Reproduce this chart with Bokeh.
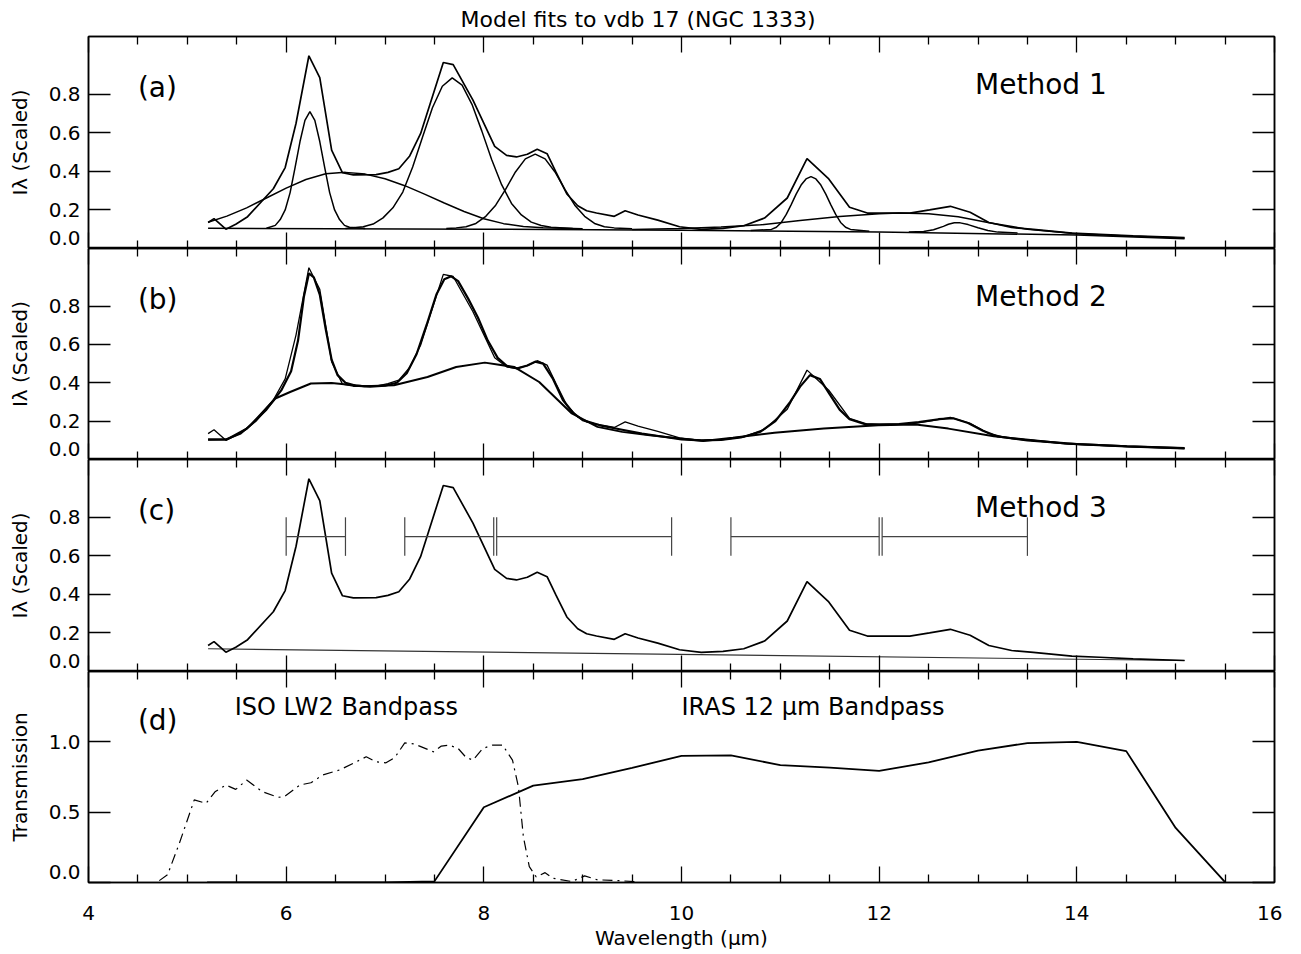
from bokeh.plotting import figure
from bokeh.models import FixedTicker, LinearAxis, Range1d, Label, CustomJSTickFormatter
from bokeh.layouts import column
from bokeh.embed import file_html
from bokeh.resources import INLINE

FONT = "DejaVu Sans"

# ---------------- data ----------------
# observed spectrum (same in panels a, b, c)
spec_wave = [5.21, 5.27, 5.39, 5.49, 5.61, 5.87, 5.99, 6.10, 6.23, 6.34, 6.46, 6.57, 6.68,
             6.91, 7.03, 7.14, 7.25, 7.36, 7.59, 7.69, 7.89, 8.11, 8.23, 8.33, 8.44, 8.54,
             8.64, 8.73, 8.84, 8.95, 9.04, 9.14, 9.32, 9.43, 9.56, 9.76, 9.98, 10.20, 10.42,
             10.63, 10.84, 11.07, 11.27, 11.49, 11.70, 11.88, 12.31, 12.51, 12.72, 12.92,
             13.11, 13.34, 13.56, 13.95, 14.23, 14.57, 15.09]
spec_flux = [0.135, 0.155, 0.100, 0.126, 0.165, 0.310, 0.420, 0.650, 1.000, 0.887, 0.510, 0.393, 0.382,
             0.383, 0.395, 0.414, 0.480, 0.596, 0.965, 0.954, 0.770, 0.530, 0.483, 0.475, 0.489, 0.515,
             0.492, 0.396, 0.283, 0.222, 0.196, 0.184, 0.167, 0.196, 0.174, 0.147, 0.113, 0.099, 0.104,
             0.118, 0.158, 0.262, 0.466, 0.361, 0.214, 0.184, 0.184, 0.200, 0.219, 0.188,
             0.135, 0.109, 0.099, 0.080, 0.074, 0.066, 0.057]

# panel (a): Method 1 components
a_cont_wave = [5.21, 8.0, 10.0, 12.0, 14.0, 15.09]
a_cont_flux = [0.105, 0.100, 0.095, 0.085, 0.070, 0.050]

a_c62_wave = [5.80, 5.89, 5.94, 5.99, 6.04, 6.09, 6.14, 6.19, 6.24, 6.29, 6.34, 6.39, 6.44,
              6.49, 6.54, 6.59, 6.64, 6.80]
a_c62_flux = [0.105, 0.12, 0.15, 0.20, 0.29, 0.42, 0.555, 0.665, 0.71, 0.665, 0.555, 0.42, 0.29,
              0.20, 0.15, 0.12, 0.11, 0.104]

a_c66_wave = [5.21, 5.4, 5.6, 5.8, 6.0, 6.2, 6.4, 6.6, 6.8, 7.0, 7.2, 7.4, 7.6, 7.8, 8.0, 8.2,
              8.4, 8.6, 9.0]
a_c66_flux = [0.136, 0.168, 0.211, 0.262, 0.313, 0.358, 0.388, 0.395, 0.386, 0.362, 0.326, 0.282,
              0.236, 0.192, 0.154, 0.129, 0.114, 0.108, 0.103]

a_c77_wave = [6.60, 6.78, 6.88, 6.98, 7.08, 7.18, 7.28, 7.38, 7.48, 7.58, 7.68, 7.78, 7.88, 7.98,
              8.08, 8.18, 8.28, 8.38, 8.48, 8.58, 8.68, 8.90]
a_c77_flux = [0.104, 0.113, 0.127, 0.159, 0.211, 0.293, 0.423, 0.578, 0.730, 0.842, 0.885, 0.848,
              0.748, 0.609, 0.460, 0.331, 0.234, 0.174, 0.137, 0.119, 0.110, 0.104]

a_c86_wave = [7.62, 7.72, 7.82, 7.92, 8.02, 8.12, 8.22, 8.32, 8.42, 8.52, 8.62, 8.72, 8.82, 8.92,
              9.02, 9.12, 9.22, 9.32, 9.50]
a_c86_flux = [0.104, 0.107, 0.113, 0.130, 0.167, 0.225, 0.307, 0.397, 0.465, 0.490, 0.465, 0.397,
              0.307, 0.225, 0.167, 0.130, 0.113, 0.107, 0.102]

a_c113_wave = [10.70, 10.91, 10.96, 11.01, 11.06, 11.11, 11.16, 11.21, 11.26, 11.31, 11.36, 11.41,
               11.46, 11.51, 11.56, 11.61, 11.66, 11.71, 11.90]
a_c113_flux = [0.093, 0.099, 0.110, 0.135, 0.177, 0.228, 0.282, 0.329, 0.361, 0.373, 0.361, 0.329,
               0.282, 0.228, 0.177, 0.135, 0.110, 0.099, 0.089]

a_c127_wave = [12.30, 12.45, 12.55, 12.65, 12.70, 12.76, 12.82, 12.90, 13.00, 13.10, 13.20, 13.40]
a_c127_flux = [0.085, 0.088, 0.097, 0.115, 0.126, 0.134, 0.133, 0.124, 0.108, 0.093, 0.085, 0.080]

a_plat_wave = [9.5, 10.0, 10.4, 10.8, 11.2, 11.6, 12.0, 12.2, 12.5, 12.8, 13.1, 13.5, 14.0, 14.5, 15.09]
a_plat_flux = [0.098, 0.104, 0.112, 0.123, 0.145, 0.166, 0.180, 0.184, 0.180, 0.165, 0.135, 0.100,
               0.077, 0.065, 0.055]

# panel (b): Method 2 total model and broad underlying curve
b_model_wave = [5.21, 5.40, 5.60, 5.80, 5.95, 6.05, 6.12, 6.18, 6.23, 6.28, 6.34, 6.40, 6.46, 6.52,
                6.60, 6.70, 6.85, 7.00, 7.12, 7.22, 7.32, 7.42, 7.52, 7.60, 7.67, 7.74, 7.84, 7.94,
                8.04, 8.14, 8.24, 8.34, 8.44, 8.52, 8.60, 8.70, 8.80, 8.90, 9.00, 9.20, 9.40, 9.60,
                9.80, 10.00, 10.20, 10.40, 10.60, 10.80, 10.95, 11.10, 11.20, 11.30, 11.40, 11.50,
                11.60, 11.70, 11.85, 12.00, 12.20, 12.40, 12.60, 12.75, 12.90, 13.05, 13.20, 13.50,
                14.00, 14.50, 15.09]
b_model_flux = [0.104, 0.105, 0.160, 0.260, 0.360, 0.460, 0.620, 0.850, 0.970, 0.950, 0.860, 0.680,
                0.520, 0.440, 0.400, 0.385, 0.380, 0.385, 0.400, 0.450, 0.550, 0.700, 0.860, 0.940,
                0.955, 0.930, 0.840, 0.740, 0.620, 0.530, 0.485, 0.475, 0.490, 0.510, 0.500, 0.420,
                0.310, 0.245, 0.205, 0.175, 0.155, 0.135, 0.120, 0.105, 0.100, 0.102, 0.115, 0.145,
                0.200, 0.300, 0.380, 0.440, 0.420, 0.340, 0.260, 0.210, 0.185, 0.182, 0.185, 0.195,
                0.210, 0.215, 0.190, 0.150, 0.120, 0.100, 0.080, 0.068, 0.058]

b_broad_wave = [5.21, 5.39, 5.54, 5.70, 5.89, 6.04, 6.25, 6.46, 6.79, 7.09, 7.43, 7.72, 8.01, 8.31,
                8.56, 8.89, 9.15, 9.40, 9.68, 10.22, 10.52, 10.94, 11.44, 11.99, 12.37, 12.70,
                13.16, 13.88, 14.51, 15.09]
b_broad_flux = [0.104, 0.104, 0.135, 0.205, 0.318, 0.352, 0.396, 0.399, 0.382, 0.387, 0.430, 0.482,
                0.505, 0.482, 0.404, 0.240, 0.170, 0.144, 0.127, 0.097, 0.113, 0.139, 0.161, 0.179,
                0.182, 0.161, 0.121, 0.083, 0.069, 0.060]

# panel (c): Method 3 continuum and integration intervals
c_cont_wave = [5.21, 15.09]
c_cont_flux = [0.118, 0.057]
band_lo = [6.00, 7.20, 8.13, 10.50, 12.03]
band_hi = [6.60, 8.10, 9.90, 12.00, 13.50]
band_level = 0.70
band_cap_lo = 0.60
band_cap_hi = 0.80

# panel (d): filter transmission curves
lw2_wave = [4.50, 4.69, 4.80, 4.92, 5.07, 5.19, 5.28, 5.39, 5.49, 5.60, 5.76, 5.92, 5.98, 6.14,
            6.25, 6.37, 6.54, 6.68, 6.81, 6.91, 7.01, 7.10, 7.20, 7.30, 7.49, 7.57, 7.65, 7.74,
            7.82, 7.89, 7.99, 8.09, 8.19, 8.29, 8.35, 8.40, 8.46, 8.53, 8.62, 8.70, 8.89, 9.02,
            9.15, 9.35, 9.55]
lw2_trans = [0.0, 0.0, 0.055, 0.28, 0.587, 0.563, 0.645, 0.693, 0.662, 0.728, 0.645, 0.606, 0.61,
             0.693, 0.709, 0.764, 0.80, 0.847, 0.894, 0.858, 0.851, 0.889, 0.993, 0.984, 0.929,
             0.97, 0.977, 0.953, 0.889, 0.87, 0.953, 0.977, 0.977, 0.87, 0.68, 0.326, 0.113, 0.04,
             0.07, 0.03, 0.007, 0.047, 0.019, 0.014, 0.005]

iras_wave = [5.2, 7.0, 7.5, 8.0, 8.5, 9.0, 9.5, 10.0, 10.5, 11.0, 11.5, 12.0, 12.5, 13.0, 13.5,
             14.0, 14.5, 15.0, 15.5]
iras_trans = [0.0, 0.0, 0.008, 0.535, 0.689, 0.735, 0.815, 0.900, 0.904, 0.834, 0.816, 0.793,
              0.854, 0.938, 0.991, 1.000, 0.934, 0.388, 0.002]

# axes / ticks
x_major = [4, 6, 8, 10, 12, 14, 16]
x_minor = [4.5, 5, 5.5, 6.5, 7, 7.5, 8.5, 9, 9.5, 10.5, 11, 11.5, 12.5, 13, 13.5, 14.5, 15, 15.5]
y_ticks_spec = [0.0, 0.2, 0.4, 0.6, 0.8]
y_ticks_trans = [0.0, 0.5, 1.0]

# ---------------- layout helpers ----------------
FRAME_W = 1186
ZERO_LABEL_LIFT_PX = 11   # the "0.0" label is drawn just above the panel's bottom edge


def style_axis(ax, tick_major, tick_minor, labels):
    ax.major_tick_in = tick_major
    ax.major_tick_out = 0
    ax.minor_tick_in = tick_minor
    ax.minor_tick_out = 0
    ax.axis_line_color = "black"
    ax.axis_line_width = 1.5
    ax.major_tick_line_color = "black"
    ax.major_tick_line_width = 1.3
    ax.minor_tick_line_color = "black"
    ax.minor_tick_line_width = 1.3
    if labels:
        ax.major_label_text_font = FONT
        ax.major_label_text_font_size = "20px"
        ax.major_label_text_color = "black"
    else:
        ax.major_label_text_font_size = "0px"
        ax.major_label_standoff = 0
        ax.major_label_text_color = None


def panel(ylim, yticks, ylabel, fh, xlabels=False, title=None, bottom=0):
    kw = {}
    if title is not None:
        kw["title"] = title
    p = figure(frame_width=FRAME_W, frame_height=fh,
               x_range=Range1d(4, 16), y_range=Range1d(*ylim),
               output_backend="svg", toolbar_location=None,
               x_axis_location=None, y_axis_location=None,
               min_border_left=88, min_border_right=8, min_border_top=0,
               min_border_bottom=bottom,
               background_fill_color="white", border_fill_color="white",
               outline_line_color="black", outline_line_width=1.5, **kw)
    p.grid.visible = False
    if title is not None:
        p.title.align = "left"
        p.title.offset = 372
        p.title.text_font = FONT
        p.title.text_font_size = "22px"
        p.title.text_font_style = "normal"
        p.title.text_color = "black"
        p.title.standoff = 9
    xt = FixedTicker(ticks=x_major, minor_ticks=x_minor)
    yt = FixedTicker(ticks=yticks, minor_ticks=[])

    xb = LinearAxis(ticker=xt)
    style_axis(xb, 16, 8, xlabels)
    if xlabels:
        xb.major_label_standoff = 23
        xb.axis_label = "Wavelength (μm)"
        xb.axis_label_text_font = FONT
        xb.axis_label_text_font_size = "20px"
        xb.axis_label_text_font_style = "normal"
        xb.axis_label_text_color = "black"
        xb.axis_label_standoff = 3
    p.add_layout(xb, "below")

    xa = LinearAxis(ticker=xt)
    style_axis(xa, 16, 8, False)
    p.add_layout(xa, "above")

    # left: tick marks (next to the frame)
    yl_ticks = LinearAxis(ticker=yt)
    style_axis(yl_ticks, 22, 0, False)
    p.add_layout(yl_ticks, "left")

    # left: labels; the lowest one is lifted so it stays inside its own panel
    lift = (ylim[1] - ylim[0]) * ZERO_LABEL_LIFT_PX / fh
    label_ticks = [yticks[0] + lift] + list(yticks[1:])
    yl = LinearAxis(ticker=FixedTicker(ticks=label_ticks, minor_ticks=[]),
                    formatter=CustomJSTickFormatter(
                        args=dict(first=yticks[0]),
                        code="return (index == 0 ? first : tick).toFixed(1);"))
    style_axis(yl, 0, 0, True)
    yl.axis_line_color = None
    yl.major_tick_line_color = None
    yl.major_label_standoff = 8
    yl.axis_label = ylabel
    yl.axis_label_text_font = FONT
    yl.axis_label_text_font_size = "20px"
    yl.axis_label_text_font_style = "normal"
    yl.axis_label_text_color = "black"
    yl.axis_label_standoff = 14
    p.add_layout(yl, "left")

    yr = LinearAxis(ticker=yt)
    style_axis(yr, 22, 0, False)
    p.add_layout(yr, "right")
    return p


def add_text(p, x, y, text, size):
    p.add_layout(Label(x=x, y=y, text=text, text_font=FONT, text_font_size=size,
                       text_baseline="middle", text_align="left", text_color="black"))


# ---------------- panel (a) ----------------
pa = panel((0, 1.1), y_ticks_spec, "Iλ (Scaled)", 212, title="Model fits to vdb 17 (NGC 1333)")
for wv, fl in [(a_cont_wave, a_cont_flux), (a_c62_wave, a_c62_flux), (a_c66_wave, a_c66_flux),
               (a_c77_wave, a_c77_flux), (a_c86_wave, a_c86_flux), (a_c113_wave, a_c113_flux),
               (a_c127_wave, a_c127_flux), (a_plat_wave, a_plat_flux)]:
    pa.line(wv, fl, line_color="black", line_width=1.5)
pa.line(spec_wave, spec_flux, line_color="black", line_width=1.7)
add_text(pa, 4.5, 0.835, "(a)", "28px")
add_text(pa, 12.97, 0.85, "Method 1", "28px")

# ---------------- panel (b) ----------------
pb = panel((0, 1.1), y_ticks_spec, "Iλ (Scaled)", 211)
pb.line(b_broad_wave, b_broad_flux, line_color="black", line_width=2)
pb.line(b_model_wave, b_model_flux, line_color="black", line_width=2.2)
pb.line(spec_wave, spec_flux, line_color="black", line_width=1.3)
add_text(pb, 4.5, 0.835, "(b)", "28px")
add_text(pb, 12.97, 0.85, "Method 2", "28px")

# ---------------- panel (c) ----------------
pc = panel((0, 1.1), y_ticks_spec, "Iλ (Scaled)", 212)
pc.line(c_cont_wave, c_cont_flux, line_color="#333333", line_width=1.2)
pc.line(spec_wave, spec_flux, line_color="black", line_width=1.7)
pc.segment(x0=band_lo, y0=[band_level] * len(band_lo), x1=band_hi, y1=[band_level] * len(band_hi),
           line_color="#444444", line_width=1.2)
pc.segment(x0=band_lo, y0=[band_cap_lo] * len(band_lo), x1=band_lo, y1=[band_cap_hi] * len(band_lo),
           line_color="#444444", line_width=1.2)
pc.segment(x0=band_hi, y0=[band_cap_lo] * len(band_hi), x1=band_hi, y1=[band_cap_hi] * len(band_hi),
           line_color="#444444", line_width=1.2)
add_text(pc, 4.5, 0.835, "(c)", "28px")
add_text(pc, 12.97, 0.85, "Method 3", "28px")

# ---------------- panel (d) ----------------
pd_ = panel((0, 1.5), y_ticks_trans, "Transmission", 211, xlabels=True, bottom=10)
pd_.line(lw2_wave, lw2_trans, line_color="black", line_width=1.2, line_dash="10 5 2 5")
pd_.line(iras_wave, iras_trans, line_color="black", line_width=1.8)
add_text(pd_, 4.5, 1.15, "(d)", "28px")
add_text(pd_, 5.48, 1.25, "ISO LW2 Bandpass", "24px")
add_text(pd_, 10.0, 1.25, "IRAS 12 μm Bandpass", "24px")

layout = column(pa, pb, pc, pd_, spacing=0)
open("out.html", "w").write(file_html(layout, INLINE))
